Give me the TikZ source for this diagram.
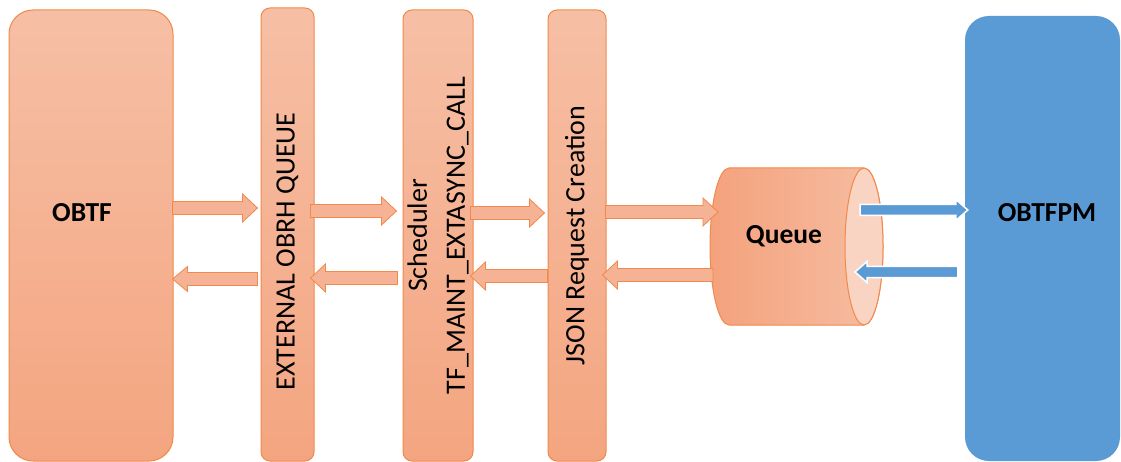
\documentclass[tikz,border=0pt]{standalone}
\usepackage{fontspec}
\setmainfont{Carlito}
\usetikzlibrary{calc, positioning}

\definecolor{otop}{HTML}{F6BFA5}
\definecolor{obot}{HTML}{F4A580}
\definecolor{oline}{HTML}{F0894A}
\definecolor{ofill}{HTML}{F5B294}
\definecolor{qleft}{HTML}{F4A27C}
\definecolor{qright}{HTML}{F6BDA2}
\definecolor{qface}{HTML}{F9D4C3}
\definecolor{pmblue}{HTML}{5B9BD5}

\tikzset{
	bigbox/.style={draw=oline, line width=1pt, rounded corners=24pt, top color=otop, bottom color=obot, inner sep=0pt},
	pmbox/.style={fill=pmblue, rounded corners=24pt, inner sep=0pt},
	slimbox/.style={draw=oline, line width=1pt, rounded corners=9pt, rotate=90, top color=otop, bottom color=obot, align=center, inner sep=0pt, font=\fontsize{28}{38}\selectfont},
	bold/.style={font=\fontsize{27.5}{32}\selectfont\bfseries},
	oarrow/.style={draw=oline, line width=0.8pt, fill=ofill},
	barrow/.style={draw=white, line width=1.5pt, fill=pmblue},
}

% block arrow: style, from, to, half shaft, half head, head length
\newcommand{\blockarrow}[6]{%
	\path[#1] let \p1=#2, \p2=#3, \n1={ifthenelse(\x2>\x1,#6,-#6)} in
	(\x1,{\y1+#4}) -- ({\x2-(\n1)*1pt},{\y1+#4}) -- ({\x2-(\n1)*1pt},{\y1+#5})
	-- (\x2,\y1) -- ({\x2-(\n1)*1pt},{\y1-#5}) -- ({\x2-(\n1)*1pt},{\y1-#4})
	-- (\x1,{\y1-#4}) -- cycle;}

\begin{document}
\begin{tikzpicture}[x=1pt, y=-1pt]
	\useasboundingbox (0,0) rectangle (1121,462);

	% boxes (slim boxes are turned: their north is the left side, south the right side)
	\node (obtf) [bigbox, minimum width=164pt, minimum height=451pt] at (91,235.5) {};
	\node (obtfname) [bold] at (82,213) {OBTF};
	\node (ext) [slimbox, minimum width=453pt, minimum height=53pt] at (287.5,234.5) {EXTERNAL OBRH QUEUE\hspace*{34pt}};
	\node (sched) [slimbox, minimum width=451pt, minimum height=70pt] at (438,235.5) {Scheduler\\TF\_MAINT\_EXTASYNC\_CALL};
	\node (json) [slimbox, minimum width=451pt, minimum height=58pt] at (577,235.5) {JSON Request Creation};
	\node (pm) [pmbox, minimum width=155pt, minimum height=445pt] at (1042.5,238.5) {};
	\node (pmname) [bold] at (1047,213) {OBTFPM};

	% queue cylinder
	\path [draw=oline, line width=1pt, left color=qleft, right color=qright]
		(864,168) -- (729,168) arc [start angle=90, end angle=270, x radius=19pt, y radius=78.5pt]
		-- (864,325) arc [start angle=-90, end angle=90, x radius=19pt, y radius=78.5pt] -- cycle;
	\draw [oline, line width=1pt, fill=qface] (864,246.5) ellipse [x radius=19pt, y radius=78.5pt];
	\coordinate (qback) at (710,246.5);
	\coordinate (qface) at (864,246.5);
	\node (queue) [bold] at (784,236) {Queue};

	% arrows
	\blockarrow{oarrow}{($(obtf.east|-0,208)+(-1,0)$)}{($(ext.north|-0,208)+(-3,0)$)}{6.5pt}{14pt}{15}
	\blockarrow{oarrow}{($(ext.north|-0,279)+(-3,0)$)}{($(obtf.east|-0,279)+(-1,0)$)}{6.5pt}{12.5pt}{15}
	\blockarrow{oarrow}{($(ext.south|-0,211)+(-4,0)$)}{($(sched.north|-0,211)+(-6,0)$)}{6.5pt}{14pt}{15}
	\blockarrow{oarrow}{($(sched.north|-0,278)+(-5,0)$)}{($(ext.south|-0,278)+(-4,0)$)}{6.5pt}{14pt}{15}
	\blockarrow{oarrow}{($(sched.south|-0,213)+(-3,0)$)}{($(json.north|-0,213)+(-3,0)$)}{6.5pt}{14pt}{15}
	\blockarrow{oarrow}{(json.north|-0,276)}{($(sched.south|-0,276)+(-3,0)$)}{6.5pt}{14pt}{15}
	\blockarrow{oarrow}{($(json.south|-0,212)+(-1,0)$)}{($(qback|-0,212)+(8,0)$)}{6.5pt}{14pt}{15}
	\blockarrow{oarrow}{($(qback|-0,275)+(3,0)$)}{($(json.south|-0,275)+(-4,0)$)}{6.5pt}{14pt}{15}
	\blockarrow{barrow}{($(qface|-0,210)+(-4,0)$)}{($(pm.west|-0,210)+(3,0)$)}{5.5pt}{10.5pt}{12}
	\blockarrow{barrow}{($(pm.west|-0,272)+(-7,0)$)}{($(qface|-0,272)+(-9,0)$)}{5.5pt}{10.5pt}{12}
\end{tikzpicture}
\end{document}
